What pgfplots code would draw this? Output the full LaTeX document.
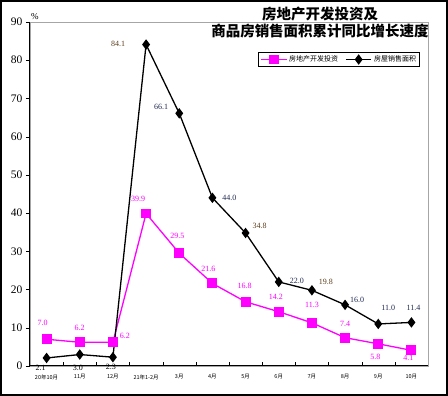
\documentclass[border=0pt]{standalone}
\usepackage{pgfplots}
\pgfplotsset{compat=1.18}
\usepackage{fontspec}
\setmainfont{Liberation Serif}
\newfontfamily\cjk{Noto Sans CJK SC}
\definecolor{pinkc}{RGB}{255,0,255}
\definecolor{navy}{RGB}{30,40,80}
\definecolor{brownc}{RGB}{90,60,25}
\begin{document}
\begin{tikzpicture}
\useasboundingbox (0,0) rectangle (448pt,396pt);
\draw[black,line width=1.6pt] (0.8pt,0.8pt) rectangle (447.2pt,395.2pt);
\node[font=\cjk\bfseries\fontsize{14.5}{16}\selectfont,anchor=center] at (320pt,382pt) {房地产开发投资及};
\node[font=\cjk\bfseries\fontsize{14.5}{16}\selectfont,anchor=center] at (320pt,365pt) {商品房销售面积累计同比增长速度};
\begin{axis}[
  at={(30pt,30pt)}, anchor=south west,
  scale only axis, width=398pt, height=344pt,
  xmin=-0.5, xmax=11.5, ymin=0, ymax=90,
  ytick={0,10,...,90},
  xtick={0,...,11},
  xticklabels={20年10月,11月,12月,21年1-2月,3月,4月,5月,6月,7月,8月,9月,10月},
  x tick label style={font=\cjk\fontsize{5.5}{6}\selectfont, yshift=-1pt},
  y tick label style={font=\fontsize{11.5}{12}\selectfont},
  /pgf/number format/assume math mode=true,
  minor xtick={0.5,1.5,...,10.5},
  tick pos=left,
  xtick style={draw=none},
  minor x tick style={draw=black, yshift=4pt},
  minor tick length=4pt,
  ytick style={draw=black},
  major tick length=4pt,
  tick align=outside,
  axis line style={draw=gray!70},
  clip=false,
  legend style={at={(0.98,0.913)}, anchor=north east, draw=black, line width=0.8pt,
    font=\cjk\fontsize{7}{8}\selectfont, legend columns=2,
    /tikz/every even column/.append style={column sep=5pt},
    inner sep=1.5pt},
  legend image code/.code={\draw[mark repeat=2,mark phase=2] plot coordinates {(0cm,0cm) (0.45cm,0cm) (0.9cm,0cm)};},
]
\addplot[pinkc, line width=1.3pt, mark=square*, mark size=4.3pt, mark options={solid}] coordinates {
(0,7.0) (1,6.2) (2,6.2) (3,39.9) (4,29.5) (5,21.6) (6,16.8) (7,14.2) (8,11.3) (9,7.4) (10,5.8) (11,4.1)};
\addlegendentry{房地产开发投资}
\addplot[black, line width=1.3pt, mark=diamond*, mark size=4.2pt, mark options={solid}] coordinates {
(0,2.1) (1,3.0) (2,2.3) (3,84.1) (4,66.1) (5,44.0) (6,34.8) (7,22.0) (8,19.8) (9,16.0) (10,11.0) (11,11.4)};
\addlegendentry{房屋销售面积}
\draw[black, line width=1pt] (rel axis cs:0,1) -- (rel axis cs:0,0) -- (rel axis cs:1,0);
\node[anchor=south west, font=\fontsize{9}{10}\selectfont, inner sep=0pt] at ([shift={(1pt,2pt)}]rel axis cs:0,1) {\%};
% pink labels
\begin{scope}[every node/.style={text=pinkc, font=\fontsize{8}{9}\selectfont, inner sep=0pt}]
\node at ([shift={(-4pt,16pt)}]axis cs:0,7.0) {7.0};
\node at ([shift={(0pt,14pt)}]axis cs:1,6.2) {6.2};
\node at ([shift={(12pt,6pt)}]axis cs:2,6.2) {6.2};
\node at ([shift={(-8pt,15pt)}]axis cs:3,39.9) {39.9};
\node at ([shift={(-2pt,17pt)}]axis cs:4,29.5) {29.5};
\node at ([shift={(-4pt,15pt)}]axis cs:5,21.6) {21.6};
\node at ([shift={(-1pt,16pt)}]axis cs:6,16.8) {16.8};
\node at ([shift={(-3pt,15pt)}]axis cs:7,14.2) {14.2};
\node at ([shift={(0pt,18pt)}]axis cs:8,11.3) {11.3};
\node at ([shift={(0pt,14pt)}]axis cs:9,7.4) {7.4};
\node at ([shift={(-3pt,-13pt)}]axis cs:10,5.8) {5.8};
\node at ([shift={(-3pt,-8pt)}]axis cs:11,4.1) {4.1};
\end{scope}
% black labels
\begin{scope}[every node/.style={text=navy, font=\fontsize{8}{9}\selectfont, inner sep=0pt}]
\node[text=black] at ([shift={(-6pt,-10pt)}]axis cs:0,2.1) {2.1};
\node[text=black] at ([shift={(-2pt,-13pt)}]axis cs:1,3.0) {3.0};
\node[text=black] at ([shift={(-2pt,-10pt)}]axis cs:2,2.3) {2.3};
\node[text=brownc] at ([shift={(-28pt,1pt)}]axis cs:3,84.1) {84.1};
\node at ([shift={(-18pt,6pt)}]axis cs:4,66.1) {66.1};
\node at ([shift={(17pt,0pt)}]axis cs:5,44.0) {44.0};
\node[text=brownc] at ([shift={(14pt,7pt)}]axis cs:6,34.8) {34.8};
\node at ([shift={(18pt,1pt)}]axis cs:7,22.0) {22.0};
\node[text=brownc] at ([shift={(14pt,8pt)}]axis cs:8,19.8) {19.8};
\node at ([shift={(12pt,5pt)}]axis cs:9,16.0) {16.0};
\node at ([shift={(10pt,16pt)}]axis cs:10,11.0) {11.0};
\node at ([shift={(2pt,15pt)}]axis cs:11,11.4) {11.4};
\end{scope}
\end{axis}
\end{tikzpicture}
\end{document}
